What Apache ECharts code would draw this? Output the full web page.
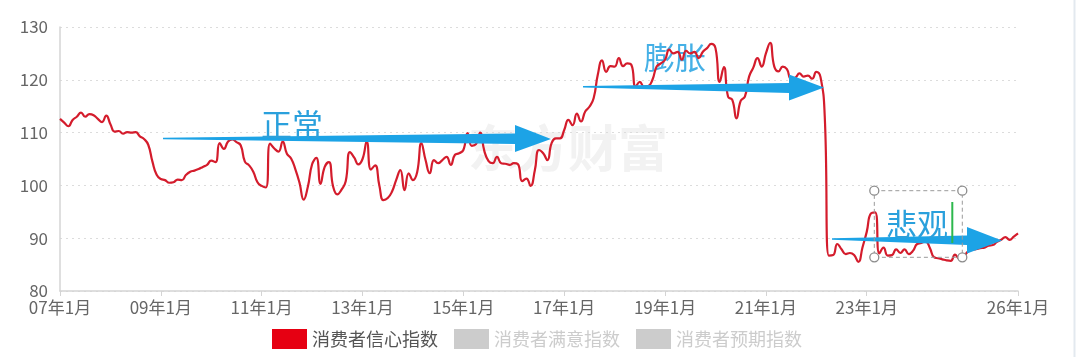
<!DOCTYPE html>
<html>
<head>
<meta charset="utf-8">
<script src="https://cdn.jsdelivr.net/npm/echarts@6/dist/echarts.min.js"></script>
<style>
html,body{margin:0;padding:0;background:#fff;}
#chart{width:1080px;height:357px;}
</style>
</head>
<body>
<div id="chart"></div>
<script>
// ---------- data ----------
const startYear = 2007;
const monthCount = 229; // 2007-01 .. 2026-01
const categories = [];
for (let i = 0; i < monthCount; i++) {
  const y = startYear + Math.floor(i / 12);
  const m = (i % 12) + 1;
  categories.push(String(y % 100).padStart(2, '0') + '年' + m + '月');
}
const seriesNames = ['消费者信心指数', '消费者满意指数', '消费者预期指数'];
const confidence = [
  112.6,111.9,111.2,112.4,113.0,113.8,113.0,113.5,113.3,112.6,112.0,113.2,
  111.6,110.2,110.3,109.8,110.1,110.0,110.1,109.3,108.8,107.7,104.5,102.0,
  101.2,101.0,100.5,100.6,101.1,101.0,102.0,102.6,102.8,103.1,103.5,103.9,
  104.7,104.4,108.0,106.9,108.3,108.7,108.2,107.6,104.5,103.8,102.6,100.6,
  99.9,99.6,107.9,107.0,106.4,108.3,106.0,105.1,103.1,100.5,97.3,99.8,
  104.0,105.2,100.3,103.5,104.4,99.8,98.3,99.2,100.8,106.3,105.3,104.0,
  105.0,108.3,103.0,103.8,100.0,97.2,97.6,98.8,101.0,102.9,99.1,102.3,
  101.0,102.5,108.0,104.8,102.3,104.8,104.2,104.8,105.4,103.9,105.8,106.1,
  106.7,109.9,107.5,107.8,110.0,106.5,104.6,104.2,105.4,104.2,104.1,103.9,
  104.2,104.0,100.8,101.3,99.9,102.8,106.7,106.1,104.8,108.0,108.9,108.9,
  110.5,112.4,111.4,113.6,112.1,114.0,114.9,116.5,121.0,123.7,121.5,122.6,
  122.5,124.1,122.6,123.1,122.8,118.7,119.6,118.7,118.8,120.0,122.5,123.1,
  123.8,125.7,125.0,125.3,123.8,125.5,125.0,125.3,124.1,125.3,126.0,126.8,
  126.0,119.6,122.4,116.8,116.2,112.7,116.0,116.8,120.6,122.3,124.1,122.5,
  125.0,127.0,122.5,121.6,122.5,122.0,120.2,120.4,121.2,120.6,120.8,120.2,
  121.5,120.5,113.2,86.7,86.8,88.9,87.9,87.0,87.2,86.8,85.5,88.3,
  91.2,94.7,94.9,87.1,88.2,86.7,86.8,87.9,87.2,87.9,87.0,87.6,
  88.9,89.1,89.4,88.2,86.4,86.2,86.0,85.8,85.7,86.9,86.2,86.4,
  87.4,87.8,87.9,88.1,88.2,88.6,88.7,89.3,89.7,90.2,89.7,90.3,
  90.9
];
const satisfaction = [];
const expectation = [];
const yMin = 80, yMax = 130, yStep = 10;
const labelStep = 24;          // every two years
const lastRegularLabel = 192;  // 23年1月
const annotations = ['正常', '膨胀', '悲观'];
const watermark = '东方财富';

// ---------- chart ----------
const chart = echarts.init(document.getElementById('chart'), null, {renderer: 'canvas'});
const showIdx = (i) => (i % labelStep === 0 && i <= lastRegularLabel) || i === monthCount - 1;
const blue = '#1ca3e6';
const font = '"Noto Sans CJK SC","Noto Sans",sans-serif';

function arrow(pts, z) {
  return {type: 'polygon', z: z, shape: {points: pts}, style: {fill: blue}};
}
function corner(x, y) {
  return {type: 'circle', z: 120, shape: {cx: x, cy: y, r: 4.5},
    style: {fill: '#fff', stroke: '#8c8c8c', lineWidth: 1.3}};
}

chart.setOption({
  animation: false,
  backgroundColor: '#fff',
  textStyle: {fontFamily: font},
  grid: {left: 60, right: 62, top: 27, bottom: 66, containLabel: false},
  legend: {
    data: seriesNames,
    left: 267, top: 324,
    icon: 'rect', itemWidth: 35, itemHeight: 20, itemGap: 16,
    selected: {'消费者满意指数': false, '消费者预期指数': false},
    inactiveColor: '#ccc',
    textStyle: {fontSize: 18, color: '#555', fontFamily: font}
  },
  xAxis: {
    type: 'category', data: categories, boundaryGap: false,
    axisLine: {lineStyle: {color: '#d4d4d4', width: 1.5}},
    axisTick: {show: true, interval: (i) => showIdx(i), length: 5, lineStyle: {color: '#d4d4d4'}},
    axisLabel: {interval: (i) => showIdx(i), color: '#666', fontSize: 17, margin: 8, fontFamily: font},
    splitLine: {show: false}
  },
  yAxis: {
    type: 'value', min: yMin, max: yMax, interval: yStep,
    axisLine: {show: true, lineStyle: {color: '#d4d4d4', width: 1.5}},
    axisTick: {show: false},
    axisLabel: {color: '#666', fontSize: 17, margin: 12, fontFamily: font},
    splitLine: {show: true, lineStyle: {color: '#dcdcdc', type: [2, 4], width: 1}}
  },
  series: [
    {name: seriesNames[0], type: 'line', data: confidence, smooth: 0.5, showSymbol: false, symbol: 'none',
      itemStyle: {color: '#e60012'}, lineStyle: {color: '#d41c2c', width: 2.2}, z: 5},
    {name: seriesNames[1], type: 'line', data: satisfaction, showSymbol: false, itemStyle: {color: '#f5a623'}},
    {name: seriesNames[2], type: 'line', data: expectation, showSymbol: false, itemStyle: {color: '#4a90e2'}}
  ],
  graphic: {elements: [
    {type: 'text', z: -10, style: {x: 668, y: 148, text: watermark, align: 'right', verticalAlign: 'middle',
      fill: '#f2f2f2', font: 'bold 50px ' + font}},
    {type: 'line', z: 1, shape: {x1: 1074.5, y1: 0, x2: 1074.5, y2: 357}, style: {stroke: '#e3e9ef', lineWidth: 2}},
    // arrows
    arrow([[163,137.8],[515,133.5],[515,125],[551,139],[515,152],[515,144],[163,139.3]], 100),
    arrow([[583,86],[789,83],[789,74.5],[824,87.5],[789,100.5],[789,93],[583,87.4]], 100),
    arrow([[832,238.3],[967,235.5],[967,227],[1002,240.5],[967,253.5],[967,245],[832,239.8]], 100),
    // labels
    {type: 'text', z: 110, style: {x: 261, y: 124, text: annotations[0], verticalAlign: 'middle', fill: '#2aa0dc', font: '31px ' + font}},
    {type: 'text', z: 2, style: {x: 644, y: 57, text: annotations[1], verticalAlign: 'middle', fill: '#45b0e6', font: '31px ' + font}},
    {type: 'text', z: 110, style: {x: 886, y: 224, text: annotations[2], verticalAlign: 'middle', fill: '#2aa0dc', font: '31px ' + font}},
    // selection box
    {type: 'rect', z: 115, shape: {x: 874.3, y: 190.7, width: 88, height: 66.6},
      style: {fill: 'none', stroke: '#9a9a9a', lineWidth: 1, lineDash: [4, 3]}},
    corner(874.3, 190.7), corner(962.3, 190.7), corner(874.3, 257.3), corner(962.3, 257.3),
    {type: 'line', z: 118, shape: {x1: 952.3, y1: 202, x2: 952.3, y2: 243}, style: {stroke: '#2db84d', lineWidth: 2}}
  ]}
});
</script>
</body>
</html>
